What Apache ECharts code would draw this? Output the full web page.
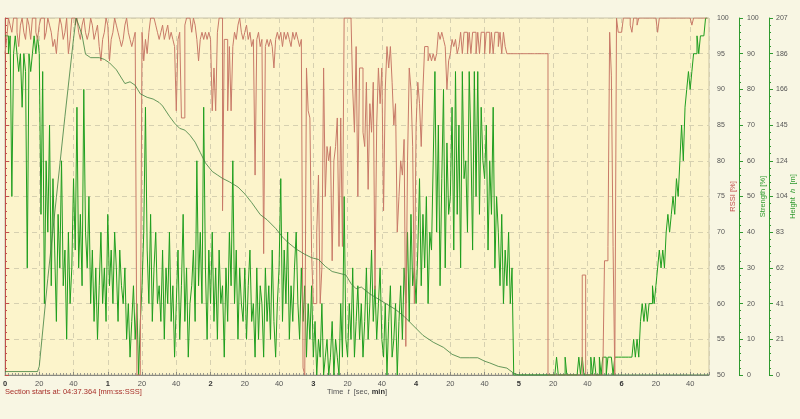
<!DOCTYPE html>
<html><head><meta charset="utf-8">
<script src="https://cdn.jsdelivr.net/npm/echarts@6/dist/echarts.min.js"></script>
<style>html,body{margin:0;padding:0;background:#f8f6e3;} #c{width:800px;height:419px;}</style>
</head><body><div id="c"></div>
<script>
// time axis: seconds 0..410, one sample per second
const timeMax = 411;
const timeStep = 20;

// RSSI [%] per second
const rssi = [
95,97,100,99,98,100,100,98,96,99,
100,98,97,100,99,97,100,100,98,97,
99,100,100,97,98,100,99,98,96,97,
95,98,100,99,97,98,100,95,97,100,
100,99,100,98,97,99,100,98,97,98,
100,99,97,98,99,96,94,97,98,100,
99,94,97,98,100,99,98,97,96,97,
99,100,98,97,96,97,98,50,50,52,
98,94,97,95,98,100,100,100,99,98,
97,98,99,97,98,99,97,98,97,96,
87,97,98,86,86,99,100,100,100,98,
100,99,97,94,97,98,97,98,97,98,
97,87,93,87,98,100,100,73,97,97,
87,96,87,96,98,97,99,100,98,97,
98,99,97,98,96,97,78,97,98,96,
97,67,96,97,96,97,96,93,97,98,
97,98,96,98,97,98,97,96,98,97,
98,97,96,97,51,50,93,87,86,67,
60,60,70,78,60,65,93,75,82,80,
82,66,80,82,86,68,86,68,100,100,
100,100,100,90,84,96,75,93,93,84,
82,91,76,88,84,91,62,85,93,88,
93,73,90,96,93,96,91,85,88,70,
75,80,78,83,54,80,93,90,82,60,
85,91,88,82,90,96,96,94,95,94,
95,94,95,98,97,98,97,96,90,94,
95,97,96,97,95,96,98,95,98,98,
95,98,95,98,98,95,98,95,98,98,
95,98,98,95,98,95,98,98,96,98,
95,98,96,95,95,95,95,95,95,95,
95,95,95,95,95,95,95,95,95,95,
95,95,95,95,95,95,95,50,50,50,
50,50,50,50,50,50,50,50,50,50,
50,50,50,50,50,50,50,64,64,50,
50,50,50,50,50,50,50,50,50,50,
66,66,68,98,92,68,50,100,98,98,
98,100,100,100,100,99,98,100,100,99,
100,100,100,100,100,100,100,100,100,100,
100,98,100,100,100,100,100,100,100,100,
100,100,100,100,100,100,100,100,100,100,
100,99,100,100,100,100,100,100,100,100,
100
];

// Strength [%] per second
const strength = [
95,95,90,95,50,90,95,90,85,90,
75,90,85,30,90,85,90,95,90,95,
90,45,85,20,60,40,70,25,55,35,
15,45,30,60,25,35,10,40,20,30,
55,35,75,30,45,25,80,40,30,50,
20,35,15,30,10,25,40,20,30,15,
45,25,35,20,40,30,15,35,25,20,
30,10,20,5,15,25,10,20,0,15,
25,40,75,35,20,45,15,30,40,20,
25,15,35,10,30,20,40,15,25,5,
20,35,10,25,45,15,30,5,20,25,
35,15,60,25,40,20,75,30,10,35,
20,40,15,30,10,35,20,25,5,30,
15,40,25,60,20,35,10,30,20,15,
30,10,25,35,15,20,5,30,10,25,
20,5,30,15,25,10,35,15,5,20,
30,55,15,35,20,40,10,25,15,30,
40,20,10,30,15,25,5,20,10,25,
5,15,0,10,5,20,0,5,10,0,
5,15,0,10,5,0,20,5,50,10,
5,20,10,30,5,15,25,10,20,5,
15,30,10,20,35,15,25,10,20,30,
10,5,20,0,15,25,5,10,20,0,
15,25,10,30,20,40,15,45,25,30,
20,35,55,25,45,30,50,20,40,35,
60,85,40,70,25,55,80,30,65,45,
50,75,35,85,45,70,30,85,55,60,
40,85,65,35,85,50,85,45,75,60,
55,70,35,60,45,75,30,50,40,25,
45,20,35,25,40,20,30,0,0,0,
0,0,0,0,0,0,0,0,0,0,
0,0,0,0,0,0,0,0,0,0,
0,0,5,0,0,0,0,5,0,0,
0,0,0,0,0,5,0,5,0,0,
0,0,5,0,5,0,0,5,0,5,
5,0,5,5,5,0,5,5,5,5,
5,5,5,5,5,5,5,10,5,10,
5,15,20,15,20,15,20,20,25,20,
25,30,35,30,35,30,40,45,40,45,
50,45,55,50,60,70,60,75,80,85,
80,85,90,90,95,90,95,95,95,100,
100
];

// Height h [m] profile
const heightTime = [0,19,20,25,30,35,40,41.5,43,45,47,50,55,58,61,65,70,73,76,79,83,86.5,90,92,96,99,102,105,108,111,114,117,121,124,127,131,136,140,144,149,153,158,162,165,170,175,179,183,187,191,195,199,202,205,208,213,218,223,228,233,238,244,250,256,261,266,271,276,280,283,288,293,297,300,411];
const heightValue = [2,2,5,56,103,150,195,207,203,197,186,184,184,183,181,177,169,170,168,163,161,160,158,156,150,146,143,142,139,135,129,123,118,116,114,112,109,105,100,93,90,85,80,77,73,70,68,67,63,60,59,58,53,50,51,47,44,41,38,34,29,23,19,16,12,10,10,10,8,7,5,4,1,0,0];

const sectionText = 'Section starts at: 04:37.364 [mm:ss:SSS]';

const FONT = 'Liberation Sans';
const gridDash = {show:true, lineStyle:{color:'#d6d0b0', type:[5,4], width:1}};

const chart = echarts.init(document.getElementById('c'), null, {renderer:'canvas'});
chart.setOption({
  animation:false,
  backgroundColor:'#f8f6e3',
  textStyle:{fontFamily:FONT},
  grid:{left:5, right:91, top:18, bottom:44, containLabel:false, outerBoundsMode:'none',
        show:true, backgroundColor:'#fcf4cb', borderColor:'#c9c3a6', borderWidth:1},
  xAxis:{
    type:'value', min:0, max:timeMax, interval:timeStep,
    axisLine:{show:true, lineStyle:{color:'#8a8a80', width:1}},
    axisTick:{show:true, inside:true, length:3, lineStyle:{color:'#8a8a80'}},
    minorTick:{show:true, splitNumber:10, length:2, lineStyle:{color:'#9a9a90'}},
    splitLine:gridDash,
    axisLabel:{
      margin:5, fontSize:7.5, color:'#555', fontFamily:FONT, showMaxLabel:false,
      formatter:function(v){ return v%60===0 ? '{b|'+(v/60)+'}' : String(v%60); },
      rich:{b:{fontWeight:'bold', fontSize:7.5, color:'#333', fontFamily:FONT}}
    },
    name:'{n|Time  }{i|t}{n|  [sec, }{b|min}{n|]}',
    nameLocation:'middle', nameGap:13, nameMoveOverlap:false,
    nameTextStyle:{fontSize:7.5, color:'#555', rich:{
      n:{fontSize:7.5, color:'#555', fontFamily:FONT},
      i:{fontSize:7.5, color:'#555', fontStyle:'italic', fontFamily:FONT},
      b:{fontSize:7.5, color:'#333', fontWeight:'bold', fontFamily:FONT}}}
  },
  yAxis:[
    {type:'value', position:'right', offset:0, min:50, max:100, interval:5,
     axisLine:{show:true, lineStyle:{color:'#c0504d', width:1}},
     axisTick:{show:true, length:4, lineStyle:{color:'#c0504d'}},
     minorTick:{show:true, splitNumber:5, length:2, lineStyle:{color:'#c0504d'}},
     splitLine:gridDash,
     axisLabel:{margin:8, fontSize:7, color:'#555', fontFamily:FONT},
     name:'RSSI [%]', nameLocation:'middle', nameGap:20, nameMoveOverlap:false,
     nameTextStyle:{fontSize:7.5, color:'#c0504d', fontFamily:FONT}},
    {type:'value', position:'right', offset:30, min:0, max:100, interval:10,
     axisLine:{show:true, lineStyle:{color:'#2e9a2e', width:1}},
     axisTick:{show:true, length:4, lineStyle:{color:'#2e9a2e'}},
     minorTick:{show:true, splitNumber:5, length:2, lineStyle:{color:'#2e9a2e'}},
     splitLine:{show:false},
     axisLabel:{margin:8, fontSize:7, color:'#555', fontFamily:FONT},
     name:'Strength [%]', nameLocation:'middle', nameGap:20, nameMoveOverlap:false,
     nameTextStyle:{fontSize:7.5, color:'#2e9a2e', fontFamily:FONT}},
    {type:'value', position:'right', offset:60, min:0, max:207, interval:20.7,
     axisLine:{show:true, lineStyle:{color:'#2e9a2e', width:1}},
     axisTick:{show:true, length:4, lineStyle:{color:'#2e9a2e'}},
     minorTick:{show:true, splitNumber:5, length:2, lineStyle:{color:'#2e9a2e'}},
     splitLine:{show:false},
     axisLabel:{margin:7, fontSize:7, color:'#555', fontFamily:FONT, formatter:function(v){return String(Math.round(v));}},
     name:'{n|Height  }{i|h}{n|  [m]}', nameLocation:'middle', nameGap:20, nameMoveOverlap:false,
     nameTextStyle:{fontSize:7.5, color:'#2e9a2e', rich:{
       n:{fontSize:7.5, color:'#2e9a2e', fontFamily:FONT},
       i:{fontSize:7.5, color:'#2e9a2e', fontStyle:'italic', fontFamily:FONT}}}}
  ],
  series:[
    {name:'Strength', type:'line', yAxisIndex:1, step:'end', showSymbol:false, z:2,
     lineStyle:{color:'#1f9e1f', width:1}, data:strength.map((v,i)=>[i,v])},
    {name:'RSSI', type:'line', yAxisIndex:0, step:'end', showSymbol:false, z:3,
     lineStyle:{color:'#c87a68', width:1}, data:rssi.map((v,i)=>[i,v])},
    {name:'Height', type:'line', yAxisIndex:2, showSymbol:false, z:4,
     lineStyle:{color:'#3d7f3d', width:0.8}, data:heightTime.map((t,i)=>[t,heightValue[i]])}
  ],
  graphic:[
    {type:'text', left:5, top:388, style:{text:sectionText, fontSize:7.5, fill:'#a8302a', fontFamily:FONT}}
  ]
});
</script></body></html>
